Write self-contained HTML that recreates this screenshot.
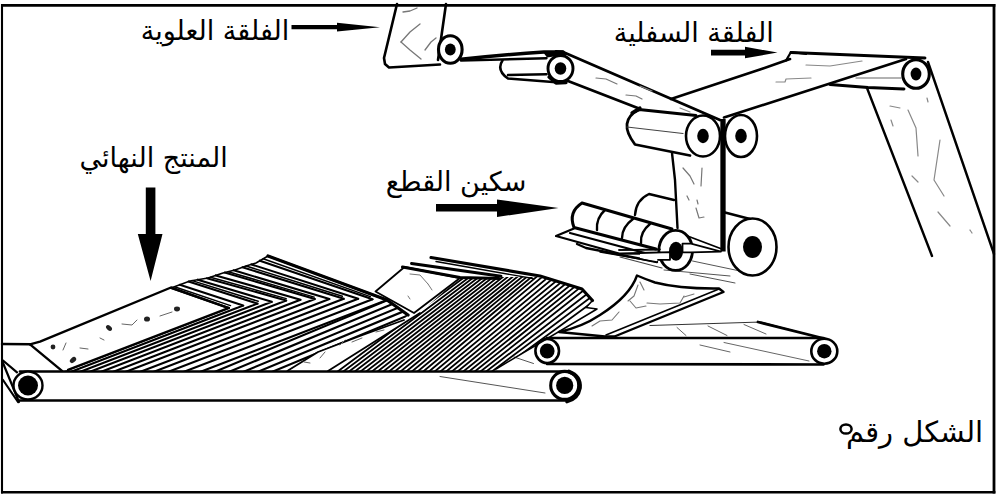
<!DOCTYPE html>
<html lang="ar"><head><meta charset="utf-8"><title>الشكل رقم ٥</title>
<style>html,body{margin:0;padding:0;background:#fff;font-family:"Liberation Sans",sans-serif}svg{display:block}</style>
</head><body>
<svg width="1000" height="500" viewBox="0 0 1000 500" stroke-linecap="round" stroke-linejoin="round">
<rect width="1000" height="500" fill="#fff"/>
<path d="M397 4 L384 58 L385 64 L389 67.5 L440 64.5" fill="none" stroke="#000" stroke-width="2.6" stroke-linejoin="round"/>
<path d="M446 4 L438 60" fill="none" stroke="#000" stroke-width="2.6" />
<path d="M403 12 L410 11 L417 8" fill="none" stroke="#777" stroke-width="1.3" />
<path d="M401 42 L410 32 L420 24" fill="none" stroke="#777" stroke-width="1.3" />
<path d="M401 42 L410 50 L421 59" fill="none" stroke="#777" stroke-width="1.3" />
<path d="M425 50 L431 42 L436 38" fill="none" stroke="#777" stroke-width="1.3" />
<ellipse cx="450.3" cy="49.5" rx="11.8" ry="13.8" fill="#fff" stroke="#000" stroke-width="3.1"/>
<ellipse cx="450.3" cy="49.5" rx="5.4" ry="6" fill="#000" stroke="none" stroke-width="0"/>
<path d="M461 59.3 Q505 54.6 544 52 L563 52" fill="none" stroke="#000" stroke-width="3.5" />
<path d="M461 60.6 L546.5 58.2" fill="none" stroke="#000" stroke-width="2.4" />
<path d="M543 52 L564 51.2 L568 54.5 L547 57.5 Z" fill="#000" stroke="none" stroke-width="0" />
<path d="M502.5 60.5 Q496 70 508 78.6 L556 82.2 M508 75 L546.5 74.2" fill="none" stroke="#000" stroke-width="2.5" />
<path d="M556 51.5 L563 52 L720 120" fill="none" stroke="#000" stroke-width="2.9" />
<path d="M568 81 L639 108.5" fill="none" stroke="#000" stroke-width="2.9" />
<ellipse cx="560.5" cy="68.5" rx="12.5" ry="13" fill="#fff" stroke="#000" stroke-width="2.9"/>
<ellipse cx="560.5" cy="68.5" rx="5.8" ry="6.2" fill="#000" stroke="none" stroke-width="0"/>
<path d="M549 77 L556 83 L566 82.5" fill="none" stroke="#000" stroke-width="3.3" />
<path d="M596 78 L606 79 L617 84" fill="none" stroke="#777" stroke-width="1.2" />
<path d="M626 95 L636 96 L642 99" fill="none" stroke="#777" stroke-width="1.2" />
<path d="M671 99 L760 69.5 L790 59" fill="none" stroke="#000" stroke-width="2.6" />
<path d="M724 117.5 L906 59" fill="none" stroke="#000" stroke-width="2.6" />
<path d="M786 60.5 L791 52 L806 54" fill="none" stroke="#000" stroke-width="2.2" />
<path d="M791 52.5 L925 58" fill="none" stroke="#000" stroke-width="2.9" />
<path d="M776 82 L785 82 L786 79 L811 78" fill="none" stroke="#888" stroke-width="1.2" />
<path d="M806 65 L830 66 L862 61" fill="none" stroke="#888" stroke-width="1.2" />
<path d="M680 108 L690 112" fill="none" stroke="#888" stroke-width="1.2" />
<path d="M640 86 L652 91" fill="none" stroke="#888" stroke-width="1.2" />
<path d="M830 84.5 L868 87.5 L904 89" fill="none" stroke="#000" stroke-width="2.9" />
<path d="M856 78 L901 78" fill="none" stroke="#666" stroke-width="1.1" />
<path d="M867 88 L932 256" fill="none" stroke="#000" stroke-width="2.4" />
<path d="M928 62 L994 254" fill="none" stroke="#000" stroke-width="2.4" />
<ellipse cx="916" cy="74" rx="13.3" ry="14.3" fill="#fff" stroke="#000" stroke-width="3.1"/>
<ellipse cx="916" cy="74" rx="5.4" ry="6.4" fill="#000" stroke="none" stroke-width="0"/>
<path d="M890 106 L900 108" fill="none" stroke="#888" stroke-width="1.2" />
<path d="M908 110 L916 128 L918 156" fill="none" stroke="#888" stroke-width="1.2" />
<path d="M940 140 L934 180 L944 196" fill="none" stroke="#888" stroke-width="1.2" />
<path d="M938 212 L950 226" fill="none" stroke="#888" stroke-width="1.2" />
<path d="M912 176 L918 182" fill="none" stroke="#888" stroke-width="1.2" />
<path d="M891 120 L893 126" fill="none" stroke="#888" stroke-width="1.2" />
<path d="M927 98 L928 102" fill="none" stroke="#888" stroke-width="1.2" />
<path d="M970 230 L972 233" fill="none" stroke="#888" stroke-width="1.2" />
<path d="M639 109.5 Q617 121 635 144.5 L690 155.5 M639 109.5 L696 115.5" fill="none" stroke="#000" stroke-width="2.8" />
<path d="M627 127 L683 133.5" fill="none" stroke="#444" stroke-width="1.2" />
<path d="M639 109.5 L632 113 L640 108" fill="none" stroke="#000" stroke-width="3.3" />
<path d="M672 153 L675 180 L677.5 228" fill="none" stroke="#000" stroke-width="2.4" />
<path d="M683 168 L690 176 L694 184" fill="none" stroke="#777" stroke-width="1.2" />
<path d="M702 168 L701 186" fill="none" stroke="#777" stroke-width="1.2" />
<path d="M687 196 L689 200" fill="none" stroke="#777" stroke-width="1.2" />
<path d="M697 200 L698 204" fill="none" stroke="#777" stroke-width="1.2" />
<path d="M696 208 L699 218 L704 217" fill="none" stroke="#777" stroke-width="1.2" />
<path d="M723 119 L723 251.5" fill="none" stroke="#000" stroke-width="5.3" stroke-linecap="butt"/>
<ellipse cx="703" cy="136" rx="17" ry="20.5" fill="#fff" stroke="#000" stroke-width="2.6"/>
<ellipse cx="703" cy="136" rx="5.8" ry="7.2" fill="#000" stroke="none" stroke-width="0"/>
<ellipse cx="741" cy="136" rx="16" ry="21" fill="#fff" stroke="#000" stroke-width="2.6"/>
<ellipse cx="741" cy="136" rx="5.8" ry="7.2" fill="#000" stroke="none" stroke-width="0"/>
<path d="M674 200 L649 194 Q636 200 635 215" fill="none" stroke="#000" stroke-width="2.4" />
<path d="M582 203 L672 229 M582 203 Q568 212 574 227.5 L656 249" fill="none" stroke="#000" stroke-width="3" />
<path d="M605 210 Q596 218 597 230" fill="none" stroke="#000" stroke-width="2.4" />
<path d="M633 219 Q622 227 622 238" fill="none" stroke="#000" stroke-width="2.4" />
<path d="M650 224 Q640 232 641 243" fill="none" stroke="#000" stroke-width="2.4" />
<path d="M574 228.5 L556 236 L619 253.5 L668 254" fill="none" stroke="#000" stroke-width="2.2" />
<path d="M570 233 L658 256.5" fill="none" stroke="#000" stroke-width="2.2" />
<path d="M577 244 L586 248 L657 262" fill="none" stroke="#000" stroke-width="2.3" />
<path d="M619 250 L668 249.5" fill="none" stroke="#000" stroke-width="1.6" />
<path d="M620 257 L662 268" fill="none" stroke="#444" stroke-width="1.2" />
<path d="M664 270 L730 276" fill="none" stroke="#555" stroke-width="1" />
<ellipse cx="675.7" cy="250.4" rx="16.8" ry="20" fill="#fff" stroke="#000" stroke-width="2.8"/>
<ellipse cx="676" cy="251.3" rx="7" ry="9.5" fill="#000" stroke="none" stroke-width="0"/>
<path d="M640 253 L670 252.2 L670 259.8 L657 259.8 L657 262 L640 258 Z" fill="#fff" stroke="none" stroke-width="0" />
<path d="M619 253.6 L640 253 L670 252.2 L670 259.8 L658 259.8" fill="none" stroke="#000" stroke-width="1.8" />
<path d="M619 250 L660 249.4" fill="none" stroke="#000" stroke-width="1.6" />
<path d="M600 252 L657 262" fill="none" stroke="#000" stroke-width="1.4" />
<path d="M682.5 243.7 L691 243.7 L721 251.6 L691 252.4 L682.5 252.4 Z" fill="#fff" stroke="#000" stroke-width="1.8" />
<path d="M687.5 236 L720.5 248.5" fill="none" stroke="#000" stroke-width="1.8" />
<path d="M692.5 261 L740 271" fill="none" stroke="#555" stroke-width="1" />
<path d="M725 212.5 L750 219" fill="none" stroke="#000" stroke-width="2.4" />
<path d="M690 274 L735 283" fill="none" stroke="#555" stroke-width="1" />
<ellipse cx="752.5" cy="247" rx="24" ry="28.5" fill="#fff" stroke="#000" stroke-width="2.6"/>
<ellipse cx="752.5" cy="247" rx="9.5" ry="11" fill="#000" stroke="none" stroke-width="0"/>
<path d="M637 275.5 Q630 296 600 315 Q582 327 559 332 L605 336.5 L614.5 336.5 L723.5 292 L719 288.5 Q680 289 655 282.5 Q645 279 637 275.5 Z" fill="#fff" stroke="#000" stroke-width="2.4" stroke-linejoin="round"/>
<path d="M719 289 L606 335" fill="none" stroke="#000" stroke-width="1.6" />
<path d="M592 326 L600 321 L612 320 L619 312" fill="none" stroke="#777" stroke-width="1.1" />
<path d="M628 301 L634 296 L638 285" fill="none" stroke="#777" stroke-width="1.1" />
<path d="M630 301 L636 308 L646 306" fill="none" stroke="#777" stroke-width="1.1" />
<path d="M647 303 L660 304 L680 303 L684 296" fill="none" stroke="#777" stroke-width="1.1" />
<path d="M684 297 L694 294" fill="none" stroke="#777" stroke-width="1.1" />
<path d="M640 282 L644 290" fill="none" stroke="#777" stroke-width="1.1" />
<path d="M650 325.5 L761 322 L812 335.5" fill="none" stroke="#333" stroke-width="1.2" />
<path d="M758 322 L826 339" fill="none" stroke="#000" stroke-width="2.8" />
<path d="M677 327.5 L686 335.5" fill="none" stroke="#666" stroke-width="1" />
<path d="M708 326 L727 335.5" fill="none" stroke="#666" stroke-width="1" />
<path d="M744 324.5 L766 334" fill="none" stroke="#666" stroke-width="1" />
<path d="M724 342.5 L809 361" fill="none" stroke="#666" stroke-width="1" />
<path d="M700 345 L730 352" fill="none" stroke="#666" stroke-width="1" />
<path d="M547 338 L823.5 338" fill="none" stroke="#000" stroke-width="2.6" />
<path d="M547 364 L823.5 364.5" fill="none" stroke="#000" stroke-width="2.6" />
<ellipse cx="547.2" cy="351" rx="11.8" ry="12" fill="#fff" stroke="#000" stroke-width="2.6"/>
<ellipse cx="547.2" cy="351" rx="7.4" ry="7.4" fill="#000" stroke="none" stroke-width="0"/>
<ellipse cx="824.3" cy="351.2" rx="13" ry="12.5" fill="#fff" stroke="#000" stroke-width="2.6"/>
<ellipse cx="824.3" cy="351.2" rx="7.2" ry="7.2" fill="#000" stroke="none" stroke-width="0"/>
<path d="M20 371.5 L565 371.5" fill="none" stroke="#000" stroke-width="2.6" />
<path d="M18 400.5 L565 400.5" fill="none" stroke="#000" stroke-width="2.6" />
<path d="M440 376.5 L545 393" fill="none" stroke="#555" stroke-width="1" />
<path d="M514 357 L533.5 363.5" fill="none" stroke="#555" stroke-width="1" />
<path d="M30 344.3 L40 341.6 L171 287.5 L228 307.8" fill="none" stroke="#000" stroke-width="2.4" />
<path d="M30 344.3 L62 370.8" fill="none" stroke="#000" stroke-width="2.4" />
<path d="M2 344 L30 344.3" fill="none" stroke="#000" stroke-width="2.4" />
<path d="M3 360.5 L17 372.4" fill="none" stroke="#000" stroke-width="2.2" />
<path d="M3 363 L19 402" fill="none" stroke="#000" stroke-width="2.2" />
<path d="M3 380 L18 402" fill="none" stroke="#000" stroke-width="2.2" />
<ellipse cx="53" cy="347" rx="2.4" ry="2.4" fill="#222" stroke="none" stroke-width="0"/>
<ellipse cx="73" cy="360" rx="3.6" ry="2.4" fill="#222" stroke="none" stroke-width="0" transform="rotate(-40 73 360)"/>
<ellipse cx="109" cy="328" rx="3.4" ry="2.2" fill="#222" stroke="none" stroke-width="0" transform="rotate(40 109 328)"/>
<ellipse cx="147" cy="319" rx="3" ry="2.6" fill="#222" stroke="none" stroke-width="0"/>
<ellipse cx="177" cy="309" rx="3" ry="2.4" fill="#222" stroke="none" stroke-width="0"/>
<path d="M66 343 L63 350" fill="none" stroke="#666" stroke-width="1" />
<path d="M80 348 L88 349" fill="none" stroke="#666" stroke-width="1" />
<path d="M122 324 L132 325 L137 320" fill="none" stroke="#666" stroke-width="1" />
<path d="M160 316 L172 312" fill="none" stroke="#666" stroke-width="1" />
<path d="M100 338 L104 340" fill="none" stroke="#666" stroke-width="1" />
<clipPath id="c1"><path d="M60 372 L66 370.4 L229 307.6 L246 305 L262 303 L296 300 L330 299 L370 299 L387 300 L408 315 L404 320 L360 336 L318 352 L288 371 Z"/></clipPath>
<g clip-path="url(#c1)">
<path d="M229 308 L62.8 372" fill="none" stroke="#000" stroke-width="2.1" />
<path d="M243.2 305.5 L70.5 372" fill="none" stroke="#000" stroke-width="2.1" />
<path d="M257.5 303.6 L79.7 372" fill="none" stroke="#000" stroke-width="2.1" />
<path d="M271.8 301.8 L89.4 372" fill="none" stroke="#000" stroke-width="2.1" />
<path d="M286.2 300.5 L100.6 372" fill="none" stroke="#000" stroke-width="2.1" />
<path d="M300.5 299.7 L112.8 372" fill="none" stroke="#000" stroke-width="2.1" />
<path d="M314.9 299 L125.3 372" fill="none" stroke="#000" stroke-width="2.1" />
<path d="M329.4 299 L139.8 372" fill="none" stroke="#000" stroke-width="2.1" />
<path d="M343.8 298.7 L153.3 372" fill="none" stroke="#000" stroke-width="2.1" />
<path d="M358.2 298.7 L167.8 372" fill="none" stroke="#000" stroke-width="2.1" />
<path d="M372.6 299.2 L183.4 372" fill="none" stroke="#000" stroke-width="2.1" />
<path d="M387 300 L200 372" fill="none" stroke="#000" stroke-width="2.1" />
<path d="M214.4 372 L414.4 289" fill="none" stroke="#000" stroke-width="2.1" />
<path d="M228.7 372 L428.7 289" fill="none" stroke="#000" stroke-width="2.1" />
<path d="M243.1 372 L443.1 289" fill="none" stroke="#000" stroke-width="2.1" />
<path d="M257.4 372 L457.4 289" fill="none" stroke="#000" stroke-width="2.1" />
<path d="M271.8 372 L471.8 289" fill="none" stroke="#000" stroke-width="2.1" />
<path d="M286.2 372 L486.2 289" fill="none" stroke="#000" stroke-width="2.1" />
<path d="M300.5 372 L500.5 289" fill="none" stroke="#000" stroke-width="2.1" />
</g>
<path d="M171 288 L229 308" fill="none" stroke="#000" stroke-width="2.1" />
<path d="M174.5 286.7 L230.5 305.6" fill="none" stroke="#000" stroke-width="1.5" />
<path d="M179.8 284.8 L243.2 305.5" fill="none" stroke="#000" stroke-width="2.1" />
<path d="M188.5 281.5 L257.5 303.6" fill="none" stroke="#000" stroke-width="2.1" />
<path d="M192.1 280.6 L258.2 301.3" fill="none" stroke="#000" stroke-width="1.5" />
<path d="M197.7 279.7 L271.8 301.8" fill="none" stroke="#000" stroke-width="2.1" />
<path d="M206.9 278.2 L286.2 300.5" fill="none" stroke="#000" stroke-width="2.1" />
<path d="M210.5 277.2 L286.2 298.6" fill="none" stroke="#000" stroke-width="1.5" />
<path d="M215.8 275.4 L300.5 299.7" fill="none" stroke="#000" stroke-width="2.1" />
<path d="M224.7 272.6 L314.9 299" fill="none" stroke="#000" stroke-width="2.1" />
<path d="M228.3 271.7 L314.2 297.1" fill="none" stroke="#000" stroke-width="1.5" />
<path d="M233.7 270.3 L329.4 299" fill="none" stroke="#000" stroke-width="2.1" />
<path d="M242.5 267.3 L343.8 298.7" fill="none" stroke="#000" stroke-width="2.1" />
<path d="M246.1 266 L342.3 296.2" fill="none" stroke="#000" stroke-width="1.5" />
<path d="M251.4 264.4 L358.2 298.7" fill="none" stroke="#000" stroke-width="2.1" />
<path d="M259.9 260.7 L372.6 299.2" fill="none" stroke="#000" stroke-width="2.1" />
<path d="M263.2 258.8 L370.3 296.6" fill="none" stroke="#000" stroke-width="1.5" />
<path d="M268 256 L387 300" fill="none" stroke="#000" stroke-width="2.1" />
<path d="M268 256 L387 300 L408 315" fill="none" stroke="#000" stroke-width="3.3" />
<path d="M171 288 L190 281 L208 278 L223 273 L235 270 L246 266 L256 263 L268 256" fill="none" stroke="#000" stroke-width="1.6" />
<path d="M68 369.8 L229 307.8" fill="none" stroke="#000" stroke-width="2.2" />
<path d="M288 370.5 L318 352 L360 336 L404 320" fill="none" stroke="#000" stroke-width="1.8" />
<path d="M304 362 L310 363" fill="none" stroke="#666" stroke-width="1" />
<path d="M320 358 L325 352" fill="none" stroke="#666" stroke-width="1" />
<path d="M340 345 L345 340" fill="none" stroke="#666" stroke-width="1" />
<path d="M352 342 L362 338" fill="none" stroke="#666" stroke-width="1" />
<path d="M376 332 L384 330" fill="none" stroke="#666" stroke-width="1" />
<path d="M375.5 291.5 L404.5 267 L460 278 L414 313 Z" fill="#fff" stroke="#000" stroke-width="1.8" />
<path d="M410 274 L420 275 L428 284" fill="none" stroke="#777" stroke-width="1" />
<path d="M428 284 L432 290" fill="none" stroke="#777" stroke-width="1" />
<path d="M408 296 L410 299" fill="none" stroke="#777" stroke-width="1" />
<clipPath id="c2"><path d="M328 371.5 L420 313 L460 277 L538 277 L582 289 L592.5 300.5 L587 307 L597 309 L496 369 L496 371.5 Z"/></clipPath>
<g clip-path="url(#c2)">
<path d="M337 372 L474.5 269.7" fill="none" stroke="#000" stroke-width="1.8" />
<path d="M342.7 372 L479.4 269.6" fill="none" stroke="#000" stroke-width="1.8" />
<path d="M348.4 372 L484.2 269.4" fill="none" stroke="#000" stroke-width="1.8" />
<path d="M354.1 372 L489.1 269.3" fill="none" stroke="#000" stroke-width="1.8" />
<path d="M359.9 372 L494 269.1" fill="none" stroke="#000" stroke-width="1.8" />
<path d="M365.6 372 L498.9 269" fill="none" stroke="#000" stroke-width="1.8" />
<path d="M371.3 372 L503.7 268.8" fill="none" stroke="#000" stroke-width="1.8" />
<path d="M377 372 L508.6 268.7" fill="none" stroke="#000" stroke-width="1.8" />
<path d="M382.7 372 L513.5 268.6" fill="none" stroke="#000" stroke-width="1.8" />
<path d="M388.4 372 L518.3 268.4" fill="none" stroke="#000" stroke-width="1.8" />
<path d="M394.1 372 L523.2 268.3" fill="none" stroke="#000" stroke-width="1.8" />
<path d="M399.9 372 L528.1 268.1" fill="none" stroke="#000" stroke-width="1.8" />
<path d="M405.6 372 L533 268" fill="none" stroke="#000" stroke-width="1.8" />
<path d="M411.3 372 L537.8 267.8" fill="none" stroke="#000" stroke-width="1.8" />
<path d="M417 372 L542.7 267.7" fill="none" stroke="#000" stroke-width="1.8" />
<path d="M422.7 372 L547.6 267.6" fill="none" stroke="#000" stroke-width="1.8" />
<path d="M428.4 372 L552.3 268.4" fill="none" stroke="#000" stroke-width="1.8" />
<path d="M434.1 372 L557 269.9" fill="none" stroke="#000" stroke-width="1.8" />
<path d="M439.9 372 L561.7 271.3" fill="none" stroke="#000" stroke-width="1.8" />
<path d="M445.6 372 L566.4 272.7" fill="none" stroke="#000" stroke-width="1.8" />
<path d="M451.3 372 L571.1 274.2" fill="none" stroke="#000" stroke-width="1.8" />
<path d="M457 372 L575.7 275.6" fill="none" stroke="#000" stroke-width="1.8" />
<path d="M462.7 372 L580.4 277" fill="none" stroke="#000" stroke-width="1.8" />
<path d="M468.4 372 L585.1 278.4" fill="none" stroke="#000" stroke-width="1.8" />
<path d="M474.1 372 L589.8 279.9" fill="none" stroke="#000" stroke-width="1.8" />
<path d="M479.9 372 L593.9 282.3" fill="none" stroke="#000" stroke-width="1.8" />
<path d="M485.6 372 L597.1 286.2" fill="none" stroke="#000" stroke-width="1.8" />
<path d="M491.3 372 L600.4 290" fill="none" stroke="#000" stroke-width="1.8" />
<path d="M497 372 L603.7 293.9" fill="none" stroke="#000" stroke-width="1.8" />
</g>
<path d="M402.5 267 L460 277.5 L499 278.5" fill="none" stroke="#000" stroke-width="3.1" />
<path d="M411.5 263.5 L501 276.2" fill="none" stroke="#000" stroke-width="2.9" />
<path d="M431 257.5 L540 276 L582 289 L592.5 300.5" fill="none" stroke="#000" stroke-width="3.1" />
<path d="M436 261.5 L533 278.5" fill="none" stroke="#000" stroke-width="1.4" />
<path d="M592.5 300.5 L586 307.5 L597 309 L496 369" fill="none" stroke="#000" stroke-width="1.6" />
<path d="M328 371 L420 313" fill="none" stroke="#000" stroke-width="1.8" />
<ellipse cx="28" cy="385.5" rx="14.5" ry="14" fill="#fff" stroke="#000" stroke-width="2.4"/>
<ellipse cx="28" cy="385.5" rx="10" ry="10" fill="#000" stroke="none" stroke-width="0"/>
<ellipse cx="564.7" cy="385.4" rx="14" ry="14" fill="#fff" stroke="#000" stroke-width="3.1"/>
<ellipse cx="564.7" cy="385.4" rx="8.6" ry="8.6" fill="#000" stroke="none" stroke-width="0"/>
<path d="M569 371.5 Q581 376 580 388 Q578 399 567 401.5" fill="none" stroke="#000" stroke-width="3.7" />
<path d="M291.5 25 L337 25 L337 22.8 L380 27.3 L337 31.6 L337 29.2 L291.5 29.2 Z" fill="#000" stroke="none" stroke-width="0" />
<path d="M711 49.8 L745 49.8 L745 46.8 L777.5 52.6 L745 58.2 L745 55.6 L711 55.6 Z" fill="#000" stroke="none" stroke-width="0" />
<path d="M436 204 L497 204 L497 199.5 L558.5 208 L497 217 L497 211.6 L436 211.6 Z" fill="#000" stroke="none" stroke-width="0" />
<path d="M145.8 187.5 L155.4 187.5 L155.4 234 L162.5 234 L150.6 281 L137.8 234 L145.8 234 Z" fill="#000" stroke="none" stroke-width="0" />
<text x="215" y="39.5" font-size="27" fill="#000" stroke="none" text-anchor="middle" direction="rtl" font-family="'DejaVu Sans', sans-serif">الفلقة العلوية</text>
<text x="693.8" y="41.7" font-size="27" fill="#000" stroke="none" text-anchor="middle" direction="rtl" font-family="'DejaVu Sans', sans-serif">الفلقة السفلية</text>
<text x="456" y="190.9" font-size="27" fill="#000" stroke="none" text-anchor="middle" direction="rtl" font-family="'DejaVu Sans', sans-serif">سكين القطع</text>
<text x="153.7" y="167.4" font-size="27" fill="#000" stroke="none" text-anchor="middle" direction="rtl" font-family="'DejaVu Sans', sans-serif">المنتج النهائي</text>
<text x="914.5" y="441.6" font-size="29" fill="#000" stroke="none" text-anchor="middle" direction="rtl" font-family="'DejaVu Sans', sans-serif">الشكل رقم</text>
<ellipse cx="846" cy="429" rx="5.6" ry="4.6" fill="none" stroke="#000" stroke-width="2.5"/>
<path d="M1 5.3 L995.4 5.3" fill="none" stroke="#000" stroke-width="2.8" stroke-linecap="butt"/>
<path d="M1 492.3 L995.4 492.3" fill="none" stroke="#000" stroke-width="2.6" stroke-linecap="butt"/>
<path d="M2 4 L2 493.6" fill="none" stroke="#000" stroke-width="2.1" stroke-linecap="butt"/>
<path d="M994 4 L994 493.6" fill="none" stroke="#000" stroke-width="2.8" stroke-linecap="butt"/>
</svg>
</body></html>
